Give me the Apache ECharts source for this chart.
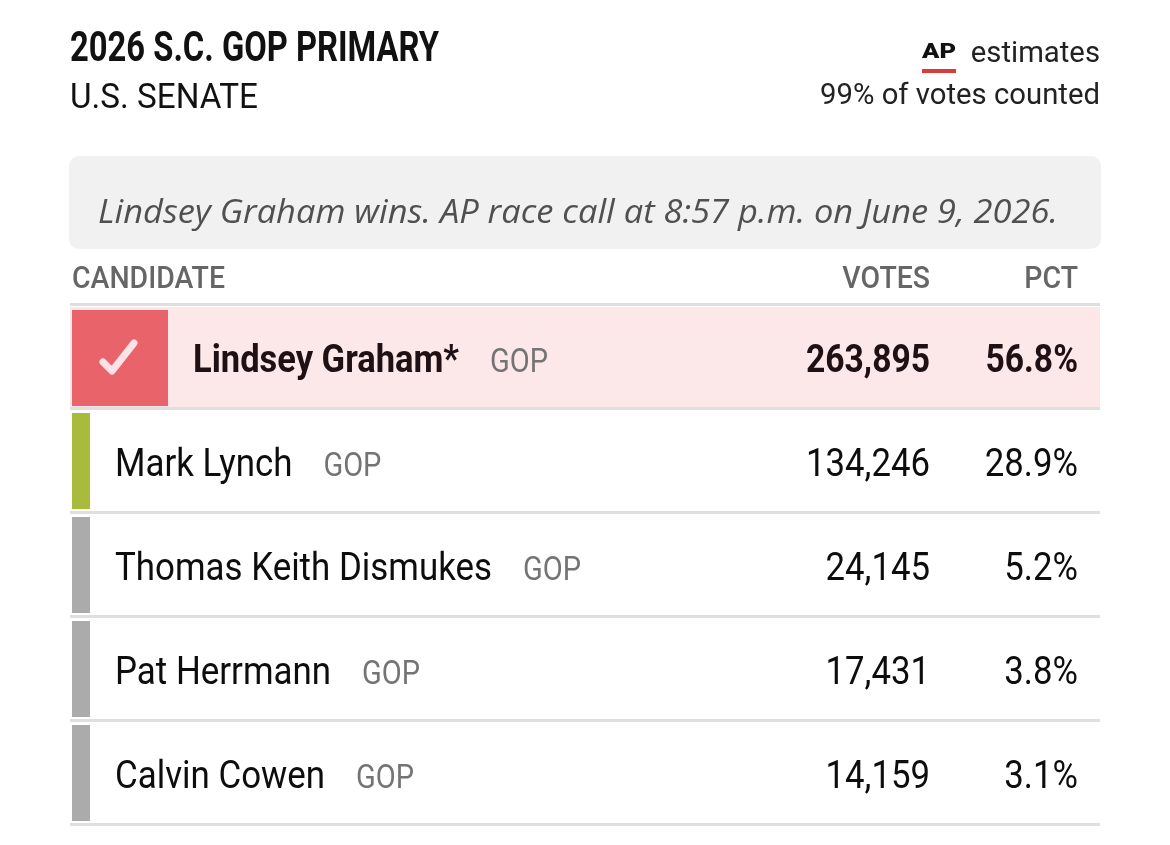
<!DOCTYPE html>
<html>
<head>
<meta charset="utf-8">
<script src="https://cdn.jsdelivr.net/npm/echarts@6/dist/echarts.min.js"></script>
<style>
  html, body { margin: 0; padding: 0; background: #ffffff; }
  #chart { width: 1170px; height: 845px; }
</style>
</head>
<body>
<div id="chart"></div>
<script>
// data
const title = '2026 S.C. GOP PRIMARY';
const subtitle = 'U.S. SENATE';
const source = 'AP';
const sourceNote = 'estimates';
const counted = '99% of votes counted';
const raceCall = 'Lindsey Graham wins. AP race call at 8:57 p.m. on June 9, 2026.';
const columns = ['CANDIDATE', 'VOTES', 'PCT'];

const candidates = ['Lindsey Graham*', 'Mark Lynch', 'Thomas Keith Dismukes', 'Pat Herrmann', 'Calvin Cowen'];
const parties = ['GOP', 'GOP', 'GOP', 'GOP', 'GOP'];
const votes = [263895, 134246, 24145, 17431, 14159];
const pcts = [56.8, 28.9, 5.2, 3.8, 3.1];
const winner = 'Lindsey Graham*';

// styles
const rowColors = ['#e9636b', '#a9bb3c', '#ababab', '#ababab', '#ababab'];
const LINE = '#dfdfdf';

// the reference uses a condensed face; squeeze Roboto to the measured widths
const mctx = document.createElement('canvas').getContext('2d');
function textW(t, f) { mctx.font = f; return mctx.measureText(t).width; }
function fitX(t, f, w) { return w / textW(t, f); }

const F = {
    title: 'bold 42px Roboto',
    sub: '35px Roboto',
    meta: '29px Roboto',
    ap: '900 21px Roboto',
    banner: 'italic 33px "Open Sans"',
    head: '500 32px Roboto',
    name: '38px Roboto',
    nameB: 'bold 38px Roboto',
    party: '33px Roboto',
    num: '38px Roboto',
    numB: 'bold 38px Roboto'
};
const SX = {
    title: fitX(title, F.title, 369),
    sub: fitX(subtitle, F.sub, 188),
    meta: fitX(counted, F.meta, 280),
    ap: fitX(source, F.ap, 34),
    banner: fitX(raceCall, F.banner, 960),
    head: fitX(columns[0], F.head, 153),
    name: fitX(candidates[2], F.name, 377),
    nameB: fitX(candidates[0], F.nameB, 266),
    party: fitX(parties[1], F.party, 58),
    num: fitX(votes[1].toLocaleString('en-US'), F.num, 124),
    numB: fitX(votes[0].toLocaleString('en-US'), F.numB, 124)
};

function txt(x, y, text, font, fill, sx, align) {
    return {
        type: 'text', x: x, y: y, scaleX: sx, scaleY: 1,
        style: { text: text, font: font, fill: fill, textAlign: align || 'left', align: align || 'left',
                 textVerticalAlign: 'middle', verticalAlign: 'middle' }
    };
}

// columns, in pixels from the left edge of the table
const COL_VOTES = 860, COL_PCT = 1008;

function renderRow(params, api) {
    const i = api.value(1);
    const c = api.coord([0, i]);
    const band = api.size([0, 1])[1];
    const left = c[0], top = c[1] - band / 2, cy = c[1];
    const isWin = candidates[i] === winner;
    const kids = [];
    if (isWin) {
        kids.push({ type: 'rect', shape: { x: left, y: top + 1, width: 1030, height: band - 4 }, style: { fill: '#fce8e9' } });
        kids.push({ type: 'rect', shape: { x: left + 2, y: top + 4, width: 96, height: band - 8 }, style: { fill: rowColors[i] } });
        kids.push({ type: 'polyline', shape: { points: [[left + 33, cy + 4], [left + 42, cy + 13], [left + 64, cy - 15]] },
                    style: { stroke: '#fde3e5', lineWidth: 7, lineCap: 'round', lineJoin: 'round', fill: null } });
    } else {
        kids.push({ type: 'rect', shape: { x: left + 2, y: top + 3, width: 18, height: band - 8 }, style: { fill: rowColors[i] } });
    }
    kids.push({ type: 'rect', shape: { x: left, y: top + band - 3, width: 1030, height: 3 }, style: { fill: LINE } });

    const ty = cy + 4.5;
    const nx = left + (isWin ? 123 : 45);
    const nFont = isWin ? F.nameB : F.name;
    const nSx = isWin ? SX.nameB : SX.name;
    const nameColor = isWin ? '#1e1014' : '#0d0d0d';
    kids.push(txt(nx, ty, candidates[i], nFont, nameColor, nSx));
    const px = nx + textW(candidates[i], nFont) * nSx + 31;
    kids.push(txt(px, ty + 1, parties[i], F.party, '#747474', SX.party));
    kids.push(txt(left + COL_VOTES, ty, api.value(0).toLocaleString('en-US'),
        isWin ? F.numB : F.num, nameColor, isWin ? SX.numB : SX.num, 'right'));
    kids.push(txt(left + COL_PCT, ty, api.value(2).toFixed(1) + '%',
        isWin ? F.numB : F.num, nameColor, isWin ? SX.numB : SX.num, 'right'));
    return { type: 'group', children: kids };
}

const chart = echarts.init(document.getElementById('chart'), null, { renderer: 'canvas' });

const option = {
    backgroundColor: '#ffffff',
    animation: false,
    grid: { left: 70, right: 70, top: 306, height: 520 },
    xAxis: { type: 'value', min: 0, max: 1030, show: false },
    yAxis: { type: 'category', data: candidates, inverse: true, show: false },
    graphic: [
        txt(70, 50, title, F.title, '#111111', SX.title),
        txt(70, 99, subtitle, F.sub, '#111111', SX.sub),
        txt(922, 53, source, F.ap, '#111111', SX.ap),
        { type: 'rect', shape: { x: 922, y: 69, width: 34, height: 4 }, style: { fill: '#d93b3b' } },
        txt(1100, 55, sourceNote, F.meta, '#222222', SX.meta, 'right'),
        txt(1100, 97, counted, F.meta, '#222222', SX.meta, 'right'),
        { type: 'rect', shape: { x: 69, y: 156, width: 1032, height: 93, r: 10 }, style: { fill: '#f1f1f1' } },
        txt(98, 214, raceCall, F.banner, '#505050', SX.banner),
        txt(72, 280, columns[0], F.head, '#666666', SX.head),
        txt(70 + COL_VOTES, 280, columns[1], F.head, '#666666', SX.head, 'right'),
        txt(70 + COL_PCT, 280, columns[2], F.head, '#666666', SX.head, 'right'),
        { type: 'rect', shape: { x: 70, y: 303, width: 1030, height: 3 }, style: { fill: LINE } }
    ],
    series: [{
        type: 'custom',
        renderItem: renderRow,
        encode: { x: 0, y: 1 },
        clip: false,
        data: candidates.map((c, i) => [votes[i], i, pcts[i]])
    }]
};
chart.setOption(option);
window.onresize = () => chart.resize();
</script>
</body>
</html>
